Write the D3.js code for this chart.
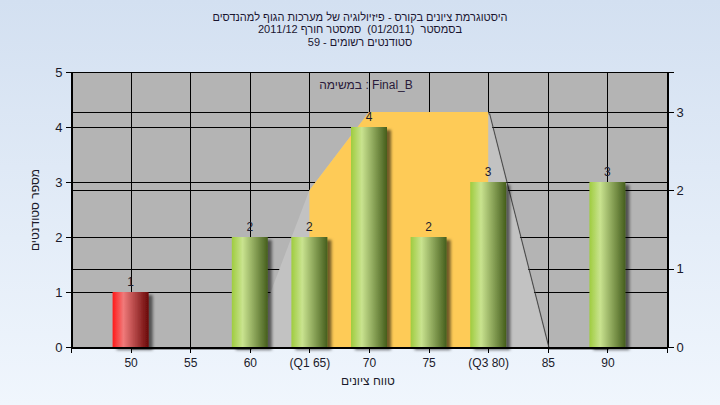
<!DOCTYPE html>
<html><head><meta charset="utf-8">
<script src="https://cdn.jsdelivr.net/npm/d3@7"></script>
<style>
html,body{margin:0;padding:0;}
body{width:720px;height:405px;overflow:hidden;}
text{font-family:"Liberation Sans",Arial,sans-serif;white-space:pre;}
</style></head>
<body>
<script>
// ---- data ----
const categories = [50, 55, 60, 65, 70, 75, 80, 85, 90];
const tickLabels = ["50", "55", "60", "(Q1 65)", "70", "75", "(Q3 80)", "85", "90"];
const counts = [1, 0, 2, 2, 4, 2, 3, 0, 3];
const failFlags = [true, false, false, false, false, false, false, false, false];
const distValues = [0, 0, 0, 2, 3, 3, 3, 0, 0];
const quartiles = [65, 80];
const leftTicks = [0, 1, 2, 3, 4, 5];
const rightTicks = [0, 1, 2, 3];
const titleLines = [
  "היסטוגרמת ציונים בקורס - פיזיולוגיה של מערכות הגוף למהנדסים",
  "בסמסטר  (01/2011)  סמסטר חורף 2011/12",
  "סטודנטים רשומים - 59"
];
const plotLabelParts = ["במשימה", " : Final_B"];
const yTitle = "מספר סטודנטים";
const xTitle = "טווח ציונים";

// ---- layout ----
const W = 720, H = 405;
const L = 71, R = 667, T = 72, B = 347;

const svg = d3.select("body").append("svg").attr("width", W).attr("height", H);
const defs = svg.append("defs");

const bg = defs.append("linearGradient").attr("id", "bg").attr("x1", 0).attr("y1", 0).attr("x2", 0).attr("y2", 1);
bg.append("stop").attr("offset", "0%").attr("stop-color", "#d3e0f1");
bg.append("stop").attr("offset", "100%").attr("stop-color", "#f0f6fd");

function barGrad(id, c0, c1, c2) {
  const g = defs.append("linearGradient").attr("id", id).attr("x1", 0).attr("y1", 0).attr("x2", 1).attr("y2", 0);
  g.append("stop").attr("offset", "0%").attr("stop-color", c0);
  g.append("stop").attr("offset", "30%").attr("stop-color", c1);
  g.append("stop").attr("offset", "100%").attr("stop-color", c2);
}
barGrad("gGreen", "#9fcc3f", "#c9e38f", "#455e1c");
barGrad("gRed", "#ff1a1a", "#f07a7a", "#6a0808");

const f = defs.append("filter").attr("id", "shadow").attr("x", "-20%").attr("y", "-20%").attr("width", "160%").attr("height", "140%");
f.append("feDropShadow").attr("dx", 4).attr("dy", 3).attr("stdDeviation", 1.8).attr("flood-color", "#000").attr("flood-opacity", 0.55);

defs.append("clipPath").attr("id", "plotClip").append("rect").attr("x", L).attr("y", T).attr("width", R - L).attr("height", B - T + 3);

svg.append("rect").attr("width", W).attr("height", H).attr("fill", "url(#bg)");

const x = d3.scaleLinear().domain([45, 95]).range([L, R]);
const yL = d3.scaleLinear().domain([0, 5]).range([B, T]);
const yR = d3.scaleLinear().domain([0, 3.51]).range([B, T]);

// plot background
svg.append("rect").attr("x", L).attr("y", T).attr("width", R - L).attr("height", B - T).attr("fill", "#b4b4b4");

// gridlines
const grid = svg.append("g").attr("stroke", "#000").attr("stroke-width", 1).attr("shape-rendering", "crispEdges");
grid.selectAll(".gx").data(categories).join("line")
  .attr("x1", d => Math.round(x(d)) + 0.5).attr("x2", d => Math.round(x(d)) + 0.5).attr("y1", T).attr("y2", B);
grid.selectAll(".gyl").data(leftTicks.filter(d => d > 0 && d < 5)).join("line").attr("class", "gyl")
  .attr("x1", L).attr("x2", R).attr("y1", d => Math.round(yL(d)) + 0.5).attr("y2", d => Math.round(yL(d)) + 0.5);
grid.selectAll(".gyr").data(rightTicks.filter(d => d > 0)).join("line").attr("class", "gyr")
  .attr("x1", L).attr("x2", R).attr("y1", d => Math.round(yR(d)) + 0.5).attr("y2", d => Math.round(yR(d)) + 0.5);

// distribution area
const pts = categories.map((c, i) => [c, distValues[i]]);
const area = d3.area().x(d => x(d[0])).y0(B).y1(d => yR(d[1]));
const line = d3.line().x(d => x(d[0])).y(d => yR(d[1]));
const ag = svg.append("g").attr("clip-path", "url(#plotClip)");
ag.append("path").datum(pts).attr("d", line).attr("fill", "none")
  .attr("stroke", "#3a3a3a").attr("stroke-width", 1.1).attr("opacity", 0.85)
  .attr("transform", "translate(1.5,2)");
ag.append("path").datum(pts).attr("d", area).attr("fill", "#c2c2c2");
defs.append("clipPath").attr("id", "qClip").append("rect")
  .attr("x", x(quartiles[0])).attr("y", T).attr("width", x(quartiles[1]) - x(quartiles[0])).attr("height", B - T);
ag.append("g").attr("clip-path", "url(#qClip)").append("path").datum(pts).attr("d", area).attr("fill", "#fecb57");

// bars
const bw = 36;
const bars = categories.map((c, i) => ({c, v: counts[i], fail: failFlags[i]})).filter(d => d.v > 0);
svg.append("g").selectAll("rect").data(bars).join("rect")
  .attr("x", d => x(d.c) - bw / 2).attr("width", bw)
  .attr("y", d => yL(d.v)).attr("height", d => B - yL(d.v))
  .attr("fill", d => d.fail ? "url(#gRed)" : "url(#gGreen)")
  .attr("filter", "url(#shadow)");

// value labels
svg.append("g").selectAll("text").data(bars).join("text")
  .attr("x", d => x(d.c)).attr("y", d => yL(d.v) - 6)
  .attr("text-anchor", "middle").attr("font-size", 12).attr("fill", "#1b1b2e")
  .text(d => d.v);

// plot border
svg.append("rect").attr("x", L + 0.5).attr("y", T + 0.5).attr("width", R - L).attr("height", B - T)
  .attr("fill", "none").attr("stroke", "#000").attr("shape-rendering", "crispEdges");

// axes
const axL = d3.axisLeft(yL).tickValues(leftTicks).tickSize(6).tickPadding(3).tickFormat(d3.format("d"));
const gL = svg.append("g").attr("transform", `translate(${L + 0.5},0)`).call(axL);
const axR = d3.axisRight(yR).tickValues(rightTicks).tickSize(6).tickPadding(3).tickFormat(d3.format("d"));
const gR = svg.append("g").attr("transform", `translate(${R + 0.5},0)`).call(axR);
const axB = d3.axisBottom(x).tickValues([45].concat(categories, [95])).tickSize(5).tickPadding(6)
  .tickFormat(d => { const i = categories.indexOf(d); return i >= 0 ? tickLabels[i] : ""; });
const gB = svg.append("g").attr("transform", `translate(0,${B + 0.5})`).call(axB);
[gL, gR, gB].forEach(g => {
  g.selectAll("path.domain").attr("stroke", "#000");
  g.selectAll(".tick line").attr("stroke", "#000");
  g.selectAll("text").attr("font-family", "Liberation Sans, Arial, sans-serif").attr("font-size", 13).attr("fill", "#1a1a2a");
  g.attr("shape-rendering", "crispEdges");
});
gB.selectAll("text").attr("font-size", 12).attr("direction", "ltr");

// titles
svg.append("g").selectAll("text").data(titleLines).join("text")
  .attr("x", 360).attr("y", (d, i) => 21 + i * 12.3)
  .attr("text-anchor", "middle").attr("direction", "rtl").attr("unicode-bidi", "embed")
  .attr("font-size", 11).attr("fill", "#1a1530")
  .text(d => d);

// in-plot label: Hebrew word on the left, ": Final_B" on the right
const plCenter = 366;
const plA = svg.append("text").attr("y", 89).attr("font-size", 12).attr("fill", "#2a1a3a")
  .attr("direction", "rtl").attr("text-anchor", "start").text(plotLabelParts[0]);
const plB = svg.append("text").attr("y", 89).attr("font-size", 12).attr("fill", "#2a1a3a")
  .attr("direction", "ltr").attr("text-anchor", "start").text(plotLabelParts[1]);
const wA = plA.node().getComputedTextLength(), wB = plB.node().getComputedTextLength();
const startX = plCenter - (wA + wB) / 2;
plA.attr("x", startX + wA);
plB.attr("x", startX + wA);

svg.append("text").attr("transform", "translate(39,210) rotate(-90)").attr("text-anchor", "middle")
  .attr("direction", "rtl").attr("font-size", 12).attr("fill", "#1a1a2a").text(yTitle);

svg.append("text").attr("x", 368).attr("y", 385).attr("text-anchor", "middle")
  .attr("direction", "rtl").attr("font-size", 12).attr("fill", "#1a1a2a").text(xTitle);
</script>
</body></html>
